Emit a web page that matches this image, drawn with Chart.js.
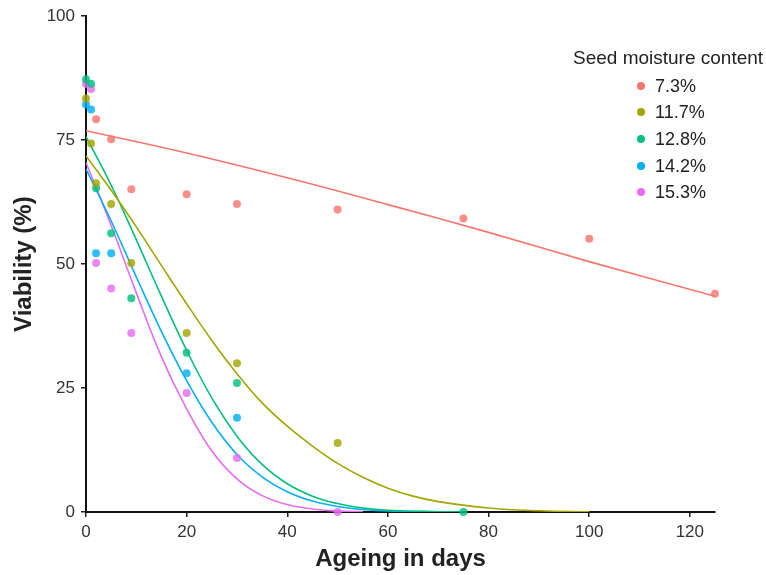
<!DOCTYPE html>
<html>
<head>
<meta charset="utf-8">
<script src="https://cdn.jsdelivr.net/npm/chart.js@4/dist/chart.umd.min.js"></script>
<style>
  body { margin: 0; background: #fff; }
  #wrap { position: relative; width: 766px; height: 575px; }
  #legend { position: absolute; left: 0; top: 0; font-family: "Liberation Sans", Arial, sans-serif; color: #222; }
  #legend .title { position: absolute; left: 573px; top: 47px; font-size: 19px; white-space: nowrap; }
  #legend .item { position: absolute; left: 637px; font-size: 18px; white-space: nowrap; line-height: 22px; }
  #legend .dot { display: inline-block; width: 8px; height: 8px; border-radius: 50%; margin-right: 10px; vertical-align: 2px; }
</style>
</head>
<body>
<div id="wrap">
  <canvas id="chart" width="766" height="575"></canvas>
  <div id="legend"></div>
</div>
<script>
// --- series labels and colours (ggplot default hues)
const seriesNames = ['7.3%', '11.7%', '12.8%', '14.2%', '15.3%'];
const seriesColors = ['#F8766D', '#A3A500', '#00BF7D', '#00B0F6', '#E76BF3'];

// --- observed points (days, viability %)
const obs73x  = [2, 5, 9, 20, 30, 50, 75, 100, 125];
const obs73y  = [79.2, 75.2, 65.1, 64.1, 62.1, 61.0, 59.2, 55.1, 44.0];
const obs117x = [0, 1, 2, 5, 9, 20, 30, 50];
const obs117y = [83.4, 74.3, 66.3, 62.1, 50.2, 36.1, 30.0, 13.9];
const obs128x = [0, 1, 2, 5, 9, 20, 30, 75];
const obs128y = [87.3, 86.4, 65.3, 56.2, 43.1, 32.1, 26.0, 0];
const obs142x = [0, 1, 2, 5, 20, 30];
const obs142y = [82.2, 81.2, 52.2, 52.2, 28.0, 19.0];
const obs153x = [0, 1, 2, 5, 9, 20, 30, 50];
const obs153y = [86.3, 85.3, 50.2, 45.1, 36.1, 24.0, 10.9, 0];

// --- fitted curves
const fit73x  = [0, 20, 40, 60, 80, 100, 125];
const fit73y  = [76.9, 72.4, 67.4, 62.0, 56.4, 50.5, 43.5];
const fit117x = [0, 5, 10, 15, 20, 25, 30, 35, 40, 45, 50, 55, 60, 65, 70, 80, 90, 100];
const fit117y = [71.8, 64.9, 57.5, 49.7, 42.0, 34.6, 27.9, 22.0, 17.3, 13.3, 9.8, 7.0, 4.8, 3.2, 2.1, 0.8, 0.25, 0.05];
const fit128x = [0, 5, 10, 15, 20, 25, 30, 35, 40, 45, 50, 55, 60, 70, 75];
const fit128y = [75.7, 65.9, 54.9, 43.5, 32.6, 23.0, 15.3, 9.6, 5.7, 3.2, 1.7, 0.8, 0.35, 0.06, 0];
const fit142x = [0, 5, 10, 15, 20, 25, 30, 35, 40, 45, 50, 55, 60, 70];
const fit142y = [69.2, 58.7, 47.4, 36.4, 26.5, 18.1, 11.6, 7.1, 4.1, 2.2, 1.1, 0.5, 0.2, 0.03];
const fit153x = [0, 5, 10, 15, 20, 25, 30, 35, 40, 45, 50, 55];
const fit153y = [70.5, 57.8, 44.2, 31.3, 20.8, 12.3, 6.7, 3.3, 1.5, 0.6, 0.2, 0.07];

// --- axis ticks
const xTicks = [0, 20, 40, 60, 80, 100, 120];
const yTicks = [0, 25, 50, 75, 100];

const obsX = [obs73x, obs117x, obs128x, obs142x, obs153x];
const obsY = [obs73y, obs117y, obs128y, obs142y, obs153y];
const fitX = [fit73x, fit117x, fit128x, fit142x, fit153x];
const fitY = [fit73y, fit117y, fit128y, fit142y, fit153y];

function toPoints(xs, ys) {
  return xs.map((x, i) => ({ x: x, y: ys[i] }));
}

const datasets = [];
for (let i = 0; i < seriesNames.length; i++) {
  datasets.push({
    label: seriesNames[i] + ' fit',
    data: toPoints(fitX[i], fitY[i]),
    showLine: true,
    borderColor: seriesColors[i],
    borderWidth: 1.6,
    pointRadius: 0,
    tension: 0.4,
    order: 2
  });
}
for (let i = 0; i < seriesNames.length; i++) {
  datasets.push({
    label: seriesNames[i],
    data: toPoints(obsX[i], obsY[i]),
    backgroundColor: seriesColors[i] + 'D0',
    borderWidth: 0,
    pointRadius: 4,
    clip: false,
    order: 1
  });
}

const tickFont = { family: '"Liberation Sans", Arial, sans-serif', size: 17 };
const titleFont = { family: '"Liberation Sans", Arial, sans-serif', size: 24, weight: 'bold' };

new Chart(document.getElementById('chart').getContext('2d'), {
  type: 'scatter',
  data: { datasets: datasets },
  options: {
    responsive: false,
    animation: false,
    layout: { padding: { left: 0, right: 51, top: 15, bottom: 0 } },
    plugins: { legend: { display: false }, tooltip: { enabled: false } },
    scales: {
      x: {
        type: 'linear',
        min: 0,
        max: 125,
        afterBuildTicks: scale => { scale.ticks = xTicks.map(v => ({ value: v })); },
        afterFit: scale => { scale.height = 63; },
        grid: { drawOnChartArea: false, drawTicks: true, tickLength: 5, color: '#222', lineWidth: 1.5 },
        border: { display: true, color: '#111', width: 2 },
        ticks: { color: '#333', font: tickFont, padding: 5, maxRotation: 0 },
        title: { display: true, text: 'Ageing in days', color: '#222', font: titleFont, padding: { top: 0, bottom: 1 } }
      },
      y: {
        type: 'linear',
        min: 0,
        max: 100,
        afterBuildTicks: scale => { scale.ticks = yTicks.map(v => ({ value: v })); },
        afterFit: scale => { scale.width = 86; },
        grid: { drawOnChartArea: false, drawTicks: true, tickLength: 5, color: '#222', lineWidth: 1.5 },
        border: { display: true, color: '#111', width: 2 },
        ticks: { color: '#333', font: tickFont, padding: 6 },
        title: { display: true, text: 'Viability (%)', color: '#222', font: titleFont, padding: { top: 10, bottom: 0 } }
      }
    }
  }
});

// legend
const legend = document.getElementById('legend');
let html = '<div class="title">Seed moisture content</div>';
const rowTop = [75, 101, 128, 155, 181];
for (let i = 0; i < seriesNames.length; i++) {
  html += `<div class="item" style="top:${rowTop[i]}px"><span class="dot" style="background:${seriesColors[i]}"></span>${seriesNames[i]}</div>`;
}
legend.innerHTML = html;
</script>
</body>
</html>
